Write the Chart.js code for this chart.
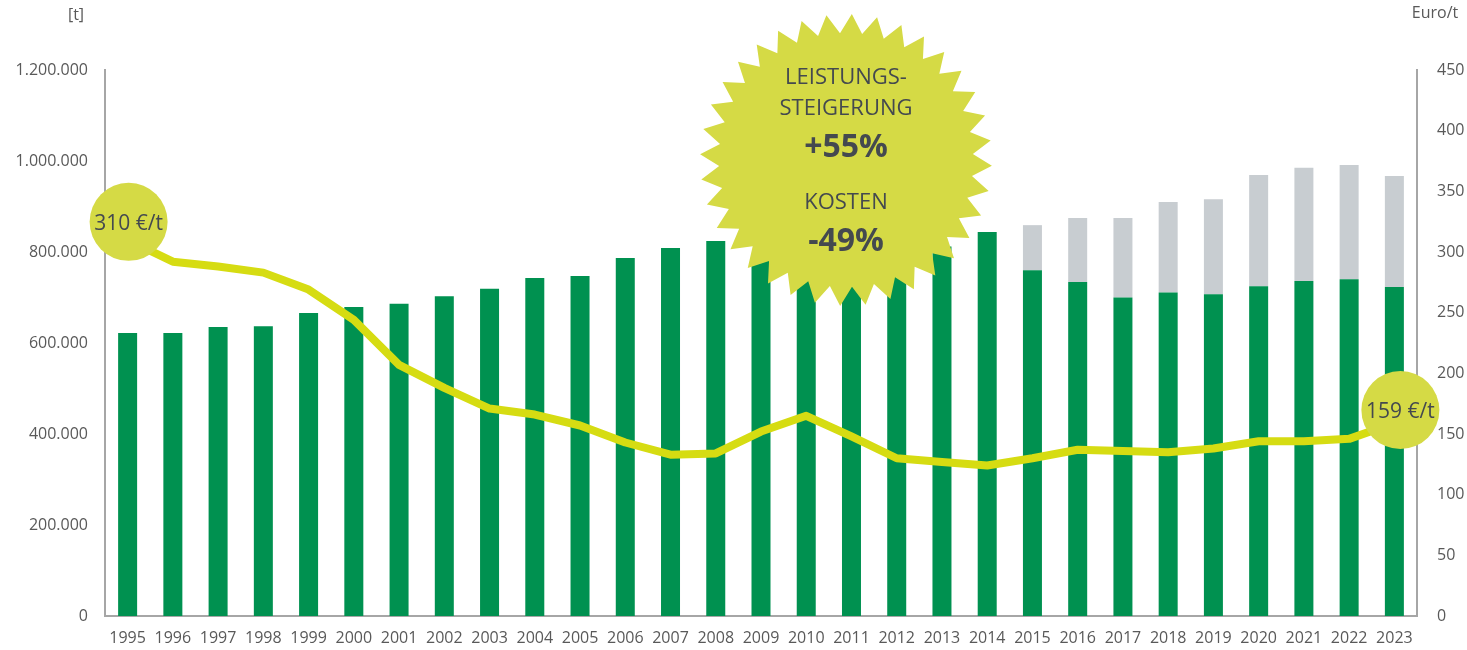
<!DOCTYPE html>
<html lang="de">
  <head>
    <meta charset="UTF-8" />
    <title>Leistungssteigerung und Kosten 1995–2023</title>
    <style>
      body {
        margin: 0;
        background: #fff;
        font-family: "Open Sans", sans-serif;
      }
      #wrap {
        width: 1467px;
        height: 650px;
      }
    </style>
    <script src="https://cdn.jsdelivr.net/npm/chart.js"></script>
  </head>
  <body>
    <div id="wrap"><canvas id="chart" width="1467" height="650"></canvas></div>

    <script>
      // Jahre
      const years = [
        "1995", "1996", "1997", "1998", "1999", "2000", "2001", "2002", "2003", "2004",
        "2005", "2006", "2007", "2008", "2009", "2010", "2011", "2012", "2013", "2014",
        "2015", "2016", "2017", "2018", "2019", "2020", "2021", "2022", "2023",
      ];

      // Menge [t] - gruener Teil
      const mengeGruen = [
        622000, 622000, 635000, 637000, 666000, 679000, 686000, 703000, 719000, 743000,
        747000, 787000, 809000, 824000, 795000, 830000, 835000, 825000, 812000, 844000,
        760000, 734000, 700000, 711000, 707000, 725000, 736000, 740000, 723000,
      ];

      // Menge [t] - grauer Teil (ab 2015)
      const mengeGrau = [
        0, 0, 0, 0, 0, 0, 0, 0, 0, 0,
        0, 0, 0, 0, 0, 0, 0, 0, 0, 0,
        99000, 141000, 175000, 199000, 209000, 244000, 249000, 251000, 244000,
      ];

      // Kosten Euro/t
      const kosten = [
        310, 292, 288, 283, 269, 244, 207, 188, 171, 166,
        157, 143, 133, 134, 152, 165, 148, 130, 127, 124,
        130, 137, 136, 135, 138, 144, 144, 146, 159,
      ];

      const leftTicks = [0, 200000, 400000, 600000, 800000, 1000000, 1200000];
      const rightTicks = [0, 50, 100, 150, 200, 250, 300, 350, 400, 450];

      const starText = [
        { text: "LEISTUNGS-", bold: false },
        { text: "STEIGERUNG", bold: false },
        { text: "+55%", bold: true },
        { text: "KOSTEN", bold: false },
        { text: "-49%", bold: true },
      ];

      const GREEN = "#009150";
      const GREY = "#c8cdd1";
      const LIME = "#d6dc12";
      const LIME_SOFT = "#d5da45";
      const TEXT = "#595959";
      const FONT = '"Open Sans", sans-serif';

      // 1.200.000 statt 1,200,000
      function fmtDe(v) {
        return String(v).replace(/\B(?=(\d{3})+(?!\d))/g, ".");
      }

      function drawStar(ctx, cx, cy, spikes, rOut, rIn, rot) {
        ctx.beginPath();
        for (let i = 0; i < spikes * 2; i++) {
          const r = i % 2 === 0 ? rOut : rIn;
          const a = -Math.PI / 2 + rot + (i * Math.PI) / spikes;
          const px = cx + Math.cos(a) * r;
          const py = cy + Math.sin(a) * r;
          if (i === 0) ctx.moveTo(px, py);
          else ctx.lineTo(px, py);
        }
        ctx.closePath();
        ctx.fill();
      }

      const overlay = {
        id: "overlay",
        afterDatasetsDraw(chart) {
          const ctx = chart.ctx;
          const ca = chart.chartArea;
          const meta = chart.getDatasetMeta(2);
          const first = meta.data[0];
          const last = meta.data[meta.data.length - 1];

          ctx.save();

          // Kreise mit Preis am Anfang und Ende
          const bubbles = [
            { x: first.x + 1, y: first.y - 18, label: kosten[0] + " €/t" },
            { x: last.x + 6, y: last.y - 13, label: kosten[kosten.length - 1] + " €/t" },
          ];
          bubbles.forEach((b) => {
            ctx.fillStyle = LIME_SOFT;
            ctx.beginPath();
            ctx.arc(b.x, b.y, 39, 0, Math.PI * 2);
            ctx.fill();
            ctx.fillStyle = "#44494f";
            ctx.font = "21px " + FONT;
            ctx.textAlign = "center";
            ctx.textBaseline = "middle";
            ctx.fillText(b.label, b.x, b.y + 2);
          });

          // Stern
          const sx = ca.left + 741;
          const sy = ca.top + 90;
          ctx.fillStyle = LIME_SOFT;
          drawStar(ctx, sx, sy, 36, 146, 127, 0.04);

          const lineY = [-82, -51, -12, 43, 82];
          ctx.fillStyle = "#44494f";
          ctx.textAlign = "center";
          ctx.textBaseline = "middle";
          starText.forEach((t, i) => {
            ctx.font = (t.bold ? "bold 32px " : "22px ") + FONT;
            ctx.fillText(t.text, sx, sy + lineY[i]);
          });

          // Einheiten
          ctx.fillStyle = TEXT;
          ctx.font = "16px " + FONT;
          ctx.textAlign = "center";
          ctx.fillText("[t]", 76, 15);
          ctx.fillText("Euro/t", 1435, 13);

          ctx.restore();
        },
      };

      new Chart(document.getElementById("chart"), {
        type: "bar",
        data: {
          labels: years,
          datasets: [
            {
              label: "Menge",
              data: mengeGruen,
              backgroundColor: GREEN,
              yAxisID: "y",
              stack: "menge",
              order: 2,
              categoryPercentage: 1,
              barPercentage: 0.42,
            },
            {
              label: "Menge zusätzlich",
              data: mengeGrau,
              backgroundColor: GREY,
              yAxisID: "y",
              stack: "menge",
              order: 2,
              categoryPercentage: 1,
              barPercentage: 0.42,
            },
            {
              type: "line",
              label: "Kosten",
              data: kosten,
              yAxisID: "y1",
              borderColor: LIME,
              borderWidth: 8,
              tension: 0,
              pointRadius: 0,
              borderJoinStyle: "round",
              borderCapStyle: "round",
              order: 1,
            },
          ],
        },
        options: {
          responsive: false,
          devicePixelRatio: 1,
          animation: false,
          layout: { padding: { top: 70, left: 0, right: 0, bottom: 0 } },
          plugins: {
            legend: { display: false },
            tooltip: { enabled: false },
          },
          scales: {
            x: {
              stacked: true,
              grid: { display: false, drawTicks: false },
              border: { display: true, color: "#a6a6a6", width: 2 },
              ticks: {
                color: TEXT,
                font: { family: FONT, size: 16 },
                padding: 13,
                maxRotation: 0,
                autoSkip: false,
              },
              afterFit(scale) {
                scale.height = 34;
              },
            },
            y: {
              stacked: true,
              position: "left",
              min: 0,
              max: 1200000,
              grid: { display: false, drawTicks: false },
              border: { display: true, color: "#a6a6a6", width: 2 },
              afterBuildTicks(scale) {
                scale.ticks = leftTicks.map((v) => ({ value: v }));
              },
              ticks: {
                color: TEXT,
                font: { family: FONT, size: 16 },
                padding: 17,
                callback: (v) => fmtDe(v),
              },
              afterFit(scale) {
                scale.width = 105;
              },
            },
            y1: {
              position: "right",
              min: 0,
              max: 450,
              grid: { display: false, drawTicks: false },
              border: { display: true, color: "#a6a6a6", width: 2 },
              afterBuildTicks(scale) {
                scale.ticks = rightTicks.map((v) => ({ value: v }));
              },
              ticks: {
                color: TEXT,
                font: { family: FONT, size: 16 },
                padding: 20,
              },
              afterFit(scale) {
                scale.width = 50;
              },
            },
          },
        },
        plugins: [overlay],
      });
    </script>
  </body>
</html>
